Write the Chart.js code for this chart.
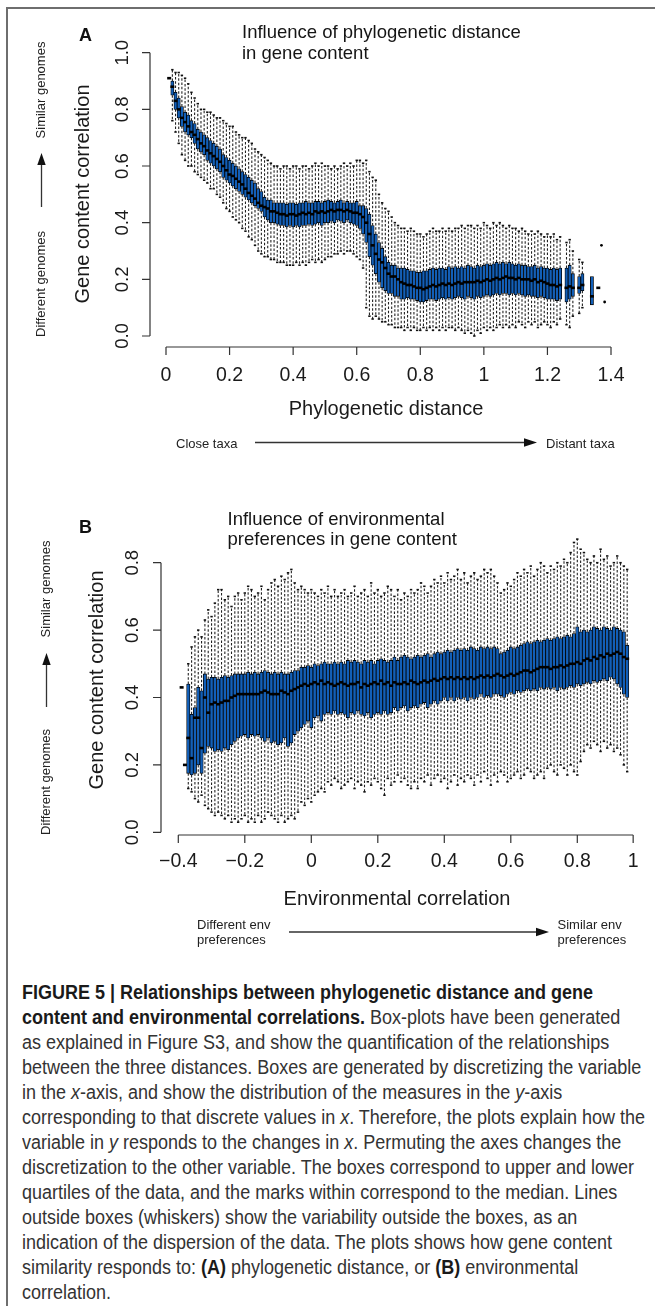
<!DOCTYPE html>
<html>
<head>
<meta charset="utf-8">
<script src="https://cdn.jsdelivr.net/npm/chart.js@4.4.1/dist/chart.umd.min.js"></script>
<style>
html, body { margin: 0; padding: 0; background: #fff; }
#page { position: relative; width: 655px; height: 1306px; overflow: hidden; font-family: "Liberation Sans", Arial, sans-serif; color: #111; }
#frame { position: absolute; left: 6px; top: 7px; width: 700px; height: 1400px; border-left: 2px solid #6e6e6e; border-top: 2px solid #6e6e6e; }
canvas { position: absolute; left: 0; }
.t { position: absolute; white-space: nowrap; }
.letter { font-weight: bold; font-size: 18px; line-height: 18px; }
.title { font-size: 18.5px; line-height: 20.3px; color: #151515; }
.note { font-size: 13px; line-height: 15px; color: #222; }
.rot { position: absolute; white-space: nowrap; font-size: 13px; line-height: 15px; color: #222; transform: translate(-50%, -50%) rotate(-90deg); }
#caption { position: absolute; left: 22px; top: 980px; transform-origin: 0 0; font-family: "Liberation Sans Narrow", "Liberation Sans", Arial, sans-serif; font-size: 20px; line-height: 25px; color: #333; }
#caption div { white-space: nowrap; width: max-content; }
#caption b { color: #1a1a1a; }
</style>
</head>
<body>
<div id="page">
  <div id="frame"></div>
  <canvas id="chartA" width="655" height="470" style="top:0"></canvas>
  <canvas id="chartB" width="655" height="500" style="top:480px"></canvas>

  <svg width="655" height="980" style="position:absolute;left:0;top:0">
    <g stroke="#333" stroke-width="1.3" fill="#111">
      <line x1="41.5" y1="207" x2="41.5" y2="164"/>
      <polygon points="41.5,153 37.3,165 45.7,165" stroke="none"/>
      <line x1="255" y1="442.5" x2="525" y2="442.5"/>
      <polygon points="537,442.5 524,438.3 524,446.7" stroke="none"/>
      <line x1="46.5" y1="707" x2="46.5" y2="664"/>
      <polygon points="46.5,653 42.3,665 50.7,665" stroke="none"/>
      <line x1="289" y1="932" x2="537" y2="932"/>
      <polygon points="549,932 536,927.8 536,936.2" stroke="none"/>
    </g>
  </svg>

  <div class="t letter" style="left:79px;top:25.5px">A</div>
  <div class="t title" style="left:242px;top:22.4px">Influence of phylogenetic distance<br>in gene content</div>
  <div class="rot" style="left:40px;top:90px">Similar genomes</div>
  <div class="rot" style="left:40px;top:283.5px">Different genomes</div>
  <div class="t note" style="left:176px;top:435.5px">Close taxa</div>
  <div class="t note" style="left:546px;top:435.5px">Distant taxa</div>

  <div class="t letter" style="left:79px;top:517.5px">B</div>
  <div class="t title" style="left:227.5px;top:509px">Influence of environmental<br>preferences in gene content</div>
  <div class="rot" style="left:44.5px;top:588.5px">Similar genomes</div>
  <div class="rot" style="left:44.5px;top:781.5px">Different genomes</div>
  <div class="t note" style="left:197px;top:916.5px">Different env<br>preferences</div>
  <div class="t note" style="left:557.5px;top:916.5px">Similar env<br>preferences</div>

  <div id="caption">
    <div><b>FIGURE 5 | Relationships between phylogenetic distance and gene</b></div>
    <div><b>content and environmental correlations.</b> Box-plots have been generated</div>
    <div>as explained in Figure S3, and show the quantification of the relationships</div>
    <div>between the three distances. Boxes are generated by discretizing the variable</div>
    <div>in the <i>x</i>-axis, and show the distribution of the measures in the <i>y</i>-axis</div>
    <div>corresponding to that discrete values in <i>x</i>. Therefore, the plots explain how the</div>
    <div>variable in <i>y</i> responds to the changes in <i>x</i>. Permuting the axes changes the</div>
    <div>discretization to the other variable. The boxes correspond to upper and lower</div>
    <div>quartiles of the data, and the marks within correspond to the median. Lines</div>
    <div>outside boxes (whiskers) show the variability outside the boxes, as an</div>
    <div>indication of the dispersion of the data. The plots shows how gene content</div>
    <div>similarity responds to: <b>(A)</b> phylogenetic distance, or <b>(B)</b> environmental</div>
    <div>correlation.</div>
  </div>
</div>

<script>
// ---------- Panel A: gene content correlation vs phylogenetic distance ----------
const aX = [
  0.01, 0.02, 0.03, 0.04, 0.05, 0.06, 0.07, 0.08, 0.09, 0.10,
  0.11, 0.12, 0.13, 0.14, 0.15, 0.16, 0.17, 0.18, 0.19, 0.20,
  0.21, 0.22, 0.23, 0.24, 0.25, 0.26, 0.27, 0.28, 0.29, 0.30,
  0.31, 0.32, 0.33, 0.34, 0.35, 0.36, 0.37, 0.38, 0.39, 0.40,
  0.41, 0.42, 0.43, 0.44, 0.45, 0.46, 0.47, 0.48, 0.49, 0.50,
  0.51, 0.52, 0.53, 0.54, 0.55, 0.56, 0.57, 0.58, 0.59, 0.60,
  0.61, 0.62, 0.63, 0.64, 0.65, 0.66, 0.67, 0.68, 0.69, 0.70,
  0.71, 0.72, 0.73, 0.74, 0.75, 0.76, 0.77, 0.78, 0.79, 0.80,
  0.81, 0.82, 0.83, 0.84, 0.85, 0.86, 0.87, 0.88, 0.89, 0.90,
  0.91, 0.92, 0.93, 0.94, 0.95, 0.96, 0.97, 0.98, 0.99, 1.00,
  1.01, 1.02, 1.03, 1.04, 1.05, 1.06, 1.07, 1.08, 1.09, 1.10,
  1.11, 1.12, 1.13, 1.14, 1.15, 1.16, 1.17, 1.18, 1.19, 1.20,
  1.21, 1.22, 1.23, 1.24,
  1.26, 1.27, 1.28, 1.30, 1.31, 1.34, 1.36
];
const aMed = [
  0.91, 0.88, 0.83, 0.80, 0.77, 0.755, 0.74, 0.72, 0.71, 0.695,
  0.68, 0.67, 0.655, 0.645, 0.635, 0.625, 0.615, 0.60, 0.585, 0.57,
  0.565, 0.555, 0.545, 0.535, 0.52, 0.505, 0.495, 0.485, 0.47, 0.46,
  0.455, 0.45, 0.44, 0.44, 0.435, 0.43, 0.43, 0.425, 0.43, 0.43,
  0.425, 0.43, 0.435, 0.43, 0.435, 0.43, 0.44, 0.435, 0.44, 0.435,
  0.44, 0.445, 0.44, 0.445, 0.445, 0.44, 0.445, 0.44, 0.435, 0.435,
  0.43, 0.42, 0.40, 0.36, 0.32, 0.29, 0.27, 0.26, 0.24, 0.22,
  0.21, 0.21, 0.20, 0.19, 0.185, 0.18, 0.18, 0.175, 0.17, 0.17,
  0.165, 0.17, 0.175, 0.18, 0.175, 0.18, 0.185, 0.18, 0.185, 0.18,
  0.185, 0.19, 0.185, 0.19, 0.19, 0.19, 0.19, 0.195, 0.19, 0.195,
  0.20, 0.195, 0.20, 0.205, 0.20, 0.205, 0.21, 0.205, 0.205, 0.20,
  0.205, 0.20, 0.20, 0.20, 0.195, 0.20, 0.19, 0.195, 0.19, 0.185,
  0.18, 0.18, 0.175, 0.18,
  0.17, 0.175, 0.17, 0.17, 0.18, 0.14, 0.17
];
const aQ1 = [
  0.91, 0.85, 0.80, 0.77, 0.74, 0.72, 0.71, 0.70, 0.68, 0.66,
  0.65, 0.64, 0.62, 0.61, 0.60, 0.59, 0.58, 0.56, 0.55, 0.54,
  0.53, 0.52, 0.51, 0.50, 0.49, 0.48, 0.47, 0.46, 0.45, 0.44,
  0.42, 0.41, 0.40, 0.40, 0.395, 0.39, 0.39, 0.385, 0.39, 0.385,
  0.39, 0.385, 0.39, 0.39, 0.395, 0.39, 0.395, 0.40, 0.39, 0.40,
  0.40, 0.405, 0.40, 0.41, 0.405, 0.40, 0.41, 0.40, 0.395, 0.39,
  0.38, 0.36, 0.33, 0.28, 0.25, 0.22, 0.19, 0.17, 0.16, 0.15,
  0.15, 0.14, 0.14, 0.13, 0.13, 0.135, 0.13, 0.13, 0.125, 0.12,
  0.12, 0.125, 0.13, 0.13, 0.125, 0.13, 0.135, 0.13, 0.135, 0.13,
  0.135, 0.14, 0.135, 0.13, 0.14, 0.135, 0.13, 0.14, 0.135, 0.14,
  0.145, 0.14, 0.145, 0.15, 0.145, 0.15, 0.15, 0.145, 0.15, 0.145,
  0.15, 0.145, 0.14, 0.145, 0.14, 0.14, 0.135, 0.14, 0.135, 0.13,
  0.13, 0.13, 0.125, 0.13,
  0.12, 0.13, 0.14, 0.15, 0.16, 0.11, 0.17
];
const aQ3 = [
  0.91, 0.90, 0.86, 0.84, 0.81, 0.79, 0.78, 0.76, 0.75, 0.73,
  0.72, 0.71, 0.70, 0.69, 0.68, 0.67, 0.66, 0.64, 0.63, 0.62,
  0.61, 0.60, 0.59, 0.58, 0.57, 0.56, 0.55, 0.54, 0.52, 0.51,
  0.49, 0.48, 0.48, 0.47, 0.47, 0.47, 0.47, 0.465, 0.47, 0.47,
  0.465, 0.47, 0.47, 0.475, 0.47, 0.47, 0.475, 0.475, 0.47, 0.475,
  0.48, 0.475, 0.47, 0.475, 0.48, 0.47, 0.475, 0.47, 0.47, 0.475,
  0.46, 0.46, 0.45, 0.43, 0.39, 0.36, 0.33, 0.31, 0.28, 0.26,
  0.25, 0.25, 0.24, 0.24, 0.24, 0.235, 0.23, 0.23, 0.225, 0.225,
  0.23, 0.23, 0.235, 0.24, 0.235, 0.24, 0.24, 0.235, 0.245, 0.24,
  0.245, 0.24, 0.245, 0.24, 0.25, 0.245, 0.24, 0.25, 0.245, 0.25,
  0.255, 0.25, 0.255, 0.26, 0.255, 0.26, 0.255, 0.26, 0.255, 0.25,
  0.255, 0.25, 0.25, 0.245, 0.245, 0.25, 0.24, 0.245, 0.24, 0.24,
  0.235, 0.24, 0.235, 0.24,
  0.24, 0.25, 0.22, 0.21, 0.22, 0.21, 0.17
];
const aLo = [
  0.91, 0.76, 0.72, 0.68, 0.64, 0.62, 0.60, 0.60, 0.58, 0.57,
  0.56, 0.55, 0.54, 0.52, 0.52, 0.50, 0.49, 0.47, 0.45, 0.44,
  0.42, 0.41, 0.40, 0.38, 0.37, 0.35, 0.34, 0.32, 0.30, 0.29,
  0.28, 0.28, 0.27, 0.27, 0.26, 0.26, 0.26, 0.25, 0.25, 0.25,
  0.26, 0.25, 0.26, 0.25, 0.26, 0.27, 0.26, 0.27, 0.26, 0.27,
  0.28, 0.28, 0.29, 0.29, 0.30, 0.29, 0.30, 0.30, 0.29, 0.28,
  0.27, 0.24, 0.10, 0.07, 0.06, 0.07, 0.06, 0.05, 0.05, 0.04,
  0.04, 0.03, 0.03, 0.03, 0.02, 0.03, 0.02, 0.03, 0.02, 0.02,
  0.03, 0.02, 0.03, 0.02, 0.03, 0.02, 0.03, 0.02, 0.03, 0.03,
  0.02, 0.03, 0.02, 0.01, 0.02, 0.01, 0.00, 0.02, 0.01, 0.03,
  0.02, 0.03, 0.02, 0.03, 0.04, 0.03, 0.04, 0.03, 0.04, 0.03,
  0.05, 0.04, 0.03, 0.05, 0.04, 0.05, 0.03, 0.04, 0.05, 0.04,
  0.03, 0.05, 0.04, 0.06,
  0.04, 0.03, 0.07, 0.08, 0.10, 0.11, 0.17
];
const aHi = [
  0.91, 0.94, 0.93, 0.93, 0.92, 0.91, 0.89, 0.86, 0.84, 0.82,
  0.80, 0.80, 0.79, 0.79, 0.78, 0.77, 0.77, 0.76, 0.75, 0.74,
  0.74, 0.72, 0.71, 0.70, 0.70, 0.69, 0.68, 0.66, 0.65, 0.64,
  0.63, 0.62, 0.61, 0.60, 0.60, 0.59, 0.60, 0.60, 0.59, 0.60,
  0.60, 0.59, 0.60, 0.60, 0.59, 0.60, 0.61, 0.60, 0.61, 0.60,
  0.60, 0.59, 0.60, 0.59, 0.60, 0.61, 0.60, 0.61, 0.60, 0.62,
  0.62, 0.61, 0.62, 0.58, 0.56, 0.55, 0.50, 0.47, 0.45, 0.44,
  0.42, 0.40, 0.39, 0.38, 0.38, 0.37, 0.38, 0.37, 0.36, 0.36,
  0.35, 0.36, 0.37, 0.38, 0.37, 0.37, 0.38, 0.37, 0.38, 0.37,
  0.38, 0.38, 0.39, 0.38, 0.39, 0.39, 0.38, 0.39, 0.38, 0.40,
  0.39, 0.38, 0.40, 0.39, 0.40, 0.39, 0.38, 0.39, 0.38, 0.38,
  0.37, 0.38, 0.37, 0.36, 0.37, 0.36, 0.37, 0.36, 0.35, 0.36,
  0.35, 0.36, 0.34, 0.35,
  0.33, 0.34, 0.30, 0.27, 0.26, 0.21, 0.17
];
const aOutX = [1.37, 1.38];
const aOutY = [0.32, 0.12];
const aXTicks = [0, 0.2, 0.4, 0.6, 0.8, 1.0, 1.2, 1.4];
const aXLabels = ['0', '0.2', '0.4', '0.6', '0.8', '1', '1.2', '1.4'];
const aYTicks = [0, 0.2, 0.4, 0.6, 0.8, 1.0];
const aYLabels = ['0.0', '0.2', '0.4', '0.6', '0.8', '1.0'];

// ---------- Panel B: gene content correlation vs environmental correlation ----------
const bX = [
  -0.39, -0.38, -0.37, -0.36, -0.35, -0.34, -0.33, -0.32, -0.31, -0.30,
  -0.29, -0.28, -0.27, -0.26, -0.25, -0.24, -0.23, -0.22, -0.21, -0.20,
  -0.19, -0.18, -0.17, -0.16, -0.15, -0.14, -0.13, -0.12, -0.11, -0.10,
  -0.09, -0.08, -0.07, -0.06, -0.05, -0.04, -0.03, -0.02, -0.01, 0.00,
  0.01, 0.02, 0.03, 0.04, 0.05, 0.06, 0.07, 0.08, 0.09, 0.10,
  0.11, 0.12, 0.13, 0.14, 0.15, 0.16, 0.17, 0.18, 0.19, 0.20,
  0.21, 0.22, 0.23, 0.24, 0.25, 0.26, 0.27, 0.28, 0.29, 0.30,
  0.31, 0.32, 0.33, 0.34, 0.35, 0.36, 0.37, 0.38, 0.39, 0.40,
  0.41, 0.42, 0.43, 0.44, 0.45, 0.46, 0.47, 0.48, 0.49, 0.50,
  0.51, 0.52, 0.53, 0.54, 0.55, 0.56, 0.57, 0.58, 0.59, 0.60,
  0.61, 0.62, 0.63, 0.64, 0.65, 0.66, 0.67, 0.68, 0.69, 0.70,
  0.71, 0.72, 0.73, 0.74, 0.75, 0.76, 0.77, 0.78, 0.79, 0.80,
  0.81, 0.82, 0.83, 0.84, 0.85, 0.86, 0.87, 0.88, 0.89, 0.90,
  0.91, 0.92, 0.93, 0.94, 0.95
];
const bLo = [
  0.43, 0.20, 0.13, 0.12, 0.10, 0.09, 0.11, 0.08, 0.07, 0.06,
  0.05, 0.06, 0.05, 0.04, 0.05, 0.03, 0.04, 0.03, 0.04, 0.05,
  0.03, 0.04, 0.03, 0.05, 0.03, 0.04, 0.06, 0.05, 0.04, 0.03,
  0.05, 0.03, 0.04, 0.05, 0.04, 0.06, 0.09, 0.08, 0.10, 0.09,
  0.11, 0.12, 0.13, 0.12, 0.15, 0.14, 0.16, 0.15, 0.13, 0.14,
  0.15, 0.16, 0.13, 0.15, 0.14, 0.12, 0.15, 0.14, 0.16, 0.15,
  0.13, 0.11, 0.16, 0.14, 0.15, 0.17, 0.15, 0.16, 0.14, 0.13,
  0.15, 0.13, 0.16, 0.15, 0.17, 0.14, 0.16, 0.17, 0.15, 0.16,
  0.13, 0.15, 0.17, 0.14, 0.16, 0.15, 0.17, 0.16, 0.14, 0.17,
  0.15, 0.18, 0.16, 0.14, 0.17, 0.15, 0.18, 0.17, 0.15, 0.16,
  0.17, 0.18, 0.16, 0.17, 0.19, 0.18, 0.16, 0.17, 0.18, 0.16,
  0.19, 0.20, 0.18, 0.17, 0.20, 0.19, 0.17, 0.20, 0.18, 0.17,
  0.21, 0.24, 0.26, 0.25, 0.27, 0.26, 0.24, 0.27, 0.25, 0.26,
  0.24, 0.25, 0.23, 0.20, 0.18
];
const bQ1 = [
  0.43, 0.20, 0.175, 0.17, 0.175, 0.20, 0.175, 0.235, 0.255, 0.25,
  0.24, 0.245, 0.24, 0.25, 0.245, 0.26, 0.27, 0.28, 0.285, 0.29,
  0.28, 0.29, 0.285, 0.29, 0.28, 0.27, 0.28, 0.265, 0.27, 0.26,
  0.265, 0.28, 0.255, 0.265, 0.29, 0.30, 0.31, 0.32, 0.33, 0.31,
  0.34, 0.345, 0.33, 0.35, 0.355, 0.35, 0.36, 0.35, 0.355, 0.35,
  0.34, 0.355, 0.35, 0.36, 0.35, 0.345, 0.355, 0.34, 0.35, 0.355,
  0.35, 0.36, 0.35, 0.355, 0.37, 0.36, 0.37, 0.375, 0.36, 0.37,
  0.375, 0.37, 0.38, 0.385, 0.37, 0.38, 0.39, 0.38, 0.39, 0.40,
  0.39, 0.40, 0.39, 0.40, 0.395, 0.40, 0.39, 0.40, 0.395, 0.40,
  0.41, 0.40, 0.405, 0.40, 0.41, 0.41, 0.405, 0.40, 0.41, 0.415,
  0.41, 0.42, 0.415, 0.42, 0.425, 0.42, 0.425, 0.42, 0.43, 0.425,
  0.43, 0.425, 0.43, 0.42, 0.43, 0.425, 0.43, 0.435, 0.43, 0.44,
  0.435, 0.44, 0.445, 0.44, 0.45, 0.445, 0.45, 0.455, 0.45, 0.46,
  0.455, 0.44, 0.43, 0.41, 0.40
];
const bMed = [
  0.43, 0.20, 0.28, 0.22, 0.34, 0.34, 0.25, 0.40, 0.355, 0.38,
  0.385, 0.38, 0.385, 0.39, 0.39, 0.40, 0.405, 0.41, 0.41, 0.41,
  0.41, 0.41, 0.41, 0.41, 0.415, 0.42, 0.415, 0.41, 0.41, 0.41,
  0.42, 0.415, 0.41, 0.42, 0.425, 0.43, 0.435, 0.44, 0.435, 0.44,
  0.445, 0.44, 0.45, 0.44, 0.445, 0.44, 0.435, 0.44, 0.445, 0.44,
  0.435, 0.44, 0.44, 0.445, 0.43, 0.44, 0.435, 0.44, 0.445, 0.44,
  0.45, 0.44, 0.445, 0.435, 0.445, 0.44, 0.44, 0.445, 0.44, 0.45,
  0.445, 0.44, 0.445, 0.45, 0.445, 0.45, 0.455, 0.45, 0.455, 0.46,
  0.455, 0.46, 0.455, 0.46, 0.455, 0.46, 0.455, 0.46, 0.455, 0.46,
  0.465, 0.46, 0.465, 0.46, 0.465, 0.47, 0.465, 0.46, 0.465, 0.47,
  0.465, 0.47, 0.475, 0.48, 0.48, 0.475, 0.48, 0.485, 0.49, 0.49,
  0.49, 0.485, 0.49, 0.49, 0.495, 0.49, 0.495, 0.50, 0.50, 0.505,
  0.50, 0.51, 0.515, 0.51, 0.52, 0.515, 0.525, 0.52, 0.53, 0.525,
  0.53, 0.535, 0.53, 0.52, 0.515
];
const bQ3 = [
  0.43, 0.20, 0.44, 0.35, 0.37, 0.43, 0.42, 0.47, 0.455, 0.46,
  0.46, 0.455, 0.46, 0.465, 0.46, 0.465, 0.47, 0.47, 0.47, 0.47,
  0.475, 0.47, 0.475, 0.47, 0.475, 0.48, 0.475, 0.47, 0.475, 0.47,
  0.475, 0.47, 0.47, 0.475, 0.48, 0.48, 0.49, 0.49, 0.495, 0.49,
  0.50, 0.495, 0.50, 0.505, 0.50, 0.50, 0.505, 0.50, 0.505, 0.50,
  0.51, 0.505, 0.51, 0.505, 0.50, 0.51, 0.505, 0.51, 0.50, 0.51,
  0.515, 0.51, 0.505, 0.51, 0.52, 0.51, 0.52, 0.525, 0.52, 0.515,
  0.52, 0.525, 0.52, 0.525, 0.53, 0.52, 0.53, 0.535, 0.53, 0.535,
  0.54, 0.535, 0.54, 0.545, 0.54, 0.545, 0.54, 0.55, 0.545, 0.54,
  0.55, 0.545, 0.55, 0.545, 0.55, 0.545, 0.53, 0.535, 0.54, 0.55,
  0.545, 0.55, 0.555, 0.56, 0.565, 0.56, 0.565, 0.57, 0.565, 0.57,
  0.575, 0.57, 0.575, 0.58, 0.575, 0.58, 0.585, 0.58, 0.59, 0.61,
  0.595, 0.60, 0.595, 0.60, 0.61, 0.605, 0.60, 0.61, 0.605, 0.60,
  0.61, 0.605, 0.60, 0.595, 0.555
];
const bHi = [
  0.43, 0.20, 0.50, 0.55, 0.58, 0.60, 0.58, 0.63, 0.66, 0.64,
  0.68, 0.72, 0.72, 0.69, 0.70, 0.67, 0.70, 0.71, 0.69, 0.71,
  0.73, 0.72, 0.70, 0.71, 0.73, 0.69, 0.72, 0.74, 0.75, 0.73,
  0.76, 0.75, 0.77, 0.78, 0.74, 0.72, 0.73, 0.72, 0.71, 0.72,
  0.71, 0.70, 0.72, 0.71, 0.73, 0.70, 0.72, 0.70, 0.71, 0.72,
  0.70, 0.71, 0.73, 0.70, 0.71, 0.72, 0.70, 0.74, 0.71, 0.72,
  0.70, 0.71, 0.73, 0.72, 0.70, 0.72, 0.69, 0.71, 0.70, 0.72,
  0.71, 0.72, 0.74, 0.73, 0.71, 0.73, 0.75, 0.74, 0.76, 0.74,
  0.77, 0.75, 0.76, 0.78, 0.75, 0.77, 0.74, 0.76, 0.77, 0.75,
  0.76, 0.78, 0.77, 0.78, 0.76, 0.74, 0.71, 0.72, 0.74, 0.73,
  0.75, 0.77, 0.76, 0.78, 0.77, 0.79, 0.76, 0.78, 0.80, 0.79,
  0.77, 0.79, 0.78, 0.80, 0.79, 0.81, 0.80, 0.83, 0.86, 0.87,
  0.84, 0.83, 0.81, 0.80, 0.82, 0.80, 0.84, 0.81, 0.82, 0.79,
  0.80, 0.82, 0.80, 0.79, 0.78
];
const bOutX = [];
const bOutY = [];
const bXTicks = [-0.4, -0.2, 0, 0.2, 0.4, 0.6, 0.8, 0.968];
const bXLabels = ['\u22120.4', '\u22120.2', '0', '0.2', '0.4', '0.6', '0.8', '1'];
const bYTicks = [0, 0.2, 0.4, 0.6, 0.8];
const bYLabels = ['0.0', '0.2', '0.4', '0.6', '0.8'];

const FONT = '"Liberation Sans", Arial, sans-serif';

// R-style detached axes: lines only span the first..last tick, y labels rotated
const rAxes = {
  id: 'rAxes',
  afterDraw(chart, args, o) {
    const ctx = chart.ctx, ca = chart.chartArea;
    const xs = chart.scales.x, ys = chart.scales.y;
    ctx.save();
    ctx.strokeStyle = '#333';
    ctx.lineWidth = 1.2;
    ctx.beginPath();
    ctx.moveTo(xs.getPixelForValue(o.xTicks[0]), ca.bottom);
    ctx.lineTo(xs.getPixelForValue(o.xTicks[o.xTicks.length - 1]), ca.bottom);
    o.xTicks.forEach(v => {
      const p = xs.getPixelForValue(v);
      ctx.moveTo(p, ca.bottom);
      ctx.lineTo(p, ca.bottom + o.tick);
    });
    ctx.moveTo(ca.left, ys.getPixelForValue(o.yTicks[0]));
    ctx.lineTo(ca.left, ys.getPixelForValue(o.yTicks[o.yTicks.length - 1]));
    o.yTicks.forEach(v => {
      const p = ys.getPixelForValue(v);
      ctx.moveTo(ca.left, p);
      ctx.lineTo(ca.left - o.tick, p);
    });
    ctx.stroke();

    ctx.fillStyle = '#1a1a1a';
    ctx.textBaseline = 'alphabetic';
    ctx.textAlign = 'center';
    ctx.font = o.xFont;
    o.xTicks.forEach((v, i) => ctx.fillText(o.xLabels[i], xs.getPixelForValue(v), o.xLabelBase));
    ctx.font = o.titleFont;
    ctx.fillText(o.xTitle, o.xTitleX, o.xTitleBase);

    ctx.font = o.yFont;
    o.yTicks.forEach((v, i) => {
      ctx.save();
      ctx.translate(o.yLabelBase, ys.getPixelForValue(v));
      ctx.rotate(-Math.PI / 2);
      ctx.fillText(o.yLabels[i], 0, 0);
      ctx.restore();
    });
    ctx.font = o.titleFont;
    ctx.translate(o.yTitleBase, o.yTitleY);
    ctx.rotate(-Math.PI / 2);
    ctx.fillText(o.yTitle, 0, 0);
    ctx.restore();
  }
};

function boxChart(id, d, s) {
  const boxes = d.x.map((x, i) => ({ x: x, y: [d.q1[i], d.q3[i]] }));
  const meds = d.x.map((x, i) => ({ x: x, y: d.med[i] }));
  const whisk = [];
  const caps = [];
  d.x.forEach((x, i) => {
    if (d.hi[i] > d.q3[i]) {
      whisk.push({ x: x, y: d.q3[i] }, { x: x, y: d.hi[i] }, { x: x, y: null });
      caps.push({ x: x, y: d.hi[i] });
    }
    if (d.lo[i] < d.q1[i]) {
      whisk.push({ x: x, y: d.q1[i] }, { x: x, y: d.lo[i] }, { x: x, y: null });
      caps.push({ x: x, y: d.lo[i] });
    }
  });
  const outs = d.outX.map((x, i) => ({ x: x, y: d.outY[i] }));

  return new Chart(document.getElementById(id), {
    type: 'bar',
    data: {
      datasets: [
        { type: 'line', data: meds, showLine: false, pointStyle: 'line', pointRadius: 2,
          pointBorderWidth: 2.6, pointBorderColor: '#000', order: 0 },
        { type: 'line', data: outs, showLine: false, pointStyle: 'circle', pointRadius: 1.4,
          pointBackgroundColor: '#000', pointBorderColor: '#000', pointBorderWidth: 0, order: 0 },
        { data: boxes, backgroundColor: '#125fb8', borderColor: '#000', borderWidth: 0.8,
          borderSkipped: false, categoryPercentage: 1, barPercentage: 1, order: 1 },
        { type: 'line', data: caps, showLine: false, pointStyle: 'line', pointRadius: 1.2,
          pointBorderWidth: 1.6, pointBorderColor: '#111', order: 2 },
        { type: 'line', data: whisk, borderColor: '#222', borderWidth: 1.1, borderDash: [2.5, 1.8],
          pointRadius: 0, spanGaps: false, tension: 0, order: 3 }
      ]
    },
    options: {
      responsive: false,
      animation: false,
      devicePixelRatio: 1,
      events: [],
      layout: { autoPadding: false, padding: s.padding },
      scales: {
        x: { type: 'linear', display: false, offset: false, min: s.xMin, max: s.xMax },
        y: { type: 'linear', display: false, min: s.yMin, max: s.yMax }
      },
      plugins: {
        legend: { display: false },
        tooltip: { enabled: false },
        rAxes: s.axes
      }
    },
    plugins: [rAxes]
  });
}

boxChart('chartA',
  { x: aX, lo: aLo, q1: aQ1, med: aMed, q3: aQ3, hi: aHi, outX: aOutX, outY: aOutY },
  {
    padding: { left: 150, right: 30, top: 40, bottom: 123 },
    xMin: -0.05034, xMax: 1.44403, yMin: -0.03883, yMax: 1.04483,
    axes: {
      xTicks: aXTicks, xLabels: aXLabels, yTicks: aYTicks, yLabels: aYLabels, tick: 8,
      xFont: '19.5px ' + FONT, yFont: '18.5px ' + FONT, titleFont: '20px ' + FONT,
      xLabelBase: 380.5, yLabelBase: 128,
      xTitle: 'Phylogenetic distance', xTitleX: 386, xTitleBase: 415,
      yTitle: 'Gene content correlation', yTitleY: 194, yTitleBase: 89.3
    }
  });

boxChart('chartB',
  { x: bX, lo: bLo, q1: bQ1, med: bMed, q3: bQ3, hi: bHi, outX: bOutX, outY: bOutY },
  {
    padding: { left: 161, right: 10, top: 40, bottom: 145 },
    xMin: -0.45203, xMax: 1.00361, yMin: -0.00801, yMax: 0.92671,
    axes: {
      xTicks: bXTicks, xLabels: bXLabels, yTicks: bYTicks, yLabels: bYLabels, tick: 8,
      xFont: '19.5px ' + FONT, yFont: '18.5px ' + FONT, titleFont: '20px ' + FONT,
      xLabelBase: 387, yLabelBase: 138,
      xTitle: 'Environmental correlation', xTitleX: 397, xTitleBase: 425,
      yTitle: 'Gene content correlation', yTitleY: 200, yTitleBase: 103.3
    }
  });

// fit the caption's widest line to the column width
const cap = document.getElementById('caption');
let widest = 0;
cap.querySelectorAll('div').forEach(l => { widest = Math.max(widest, l.getBoundingClientRect().width); });
cap.style.transform = 'scaleX(' + (623 / widest) + ')';
</script>
</body>
</html>
